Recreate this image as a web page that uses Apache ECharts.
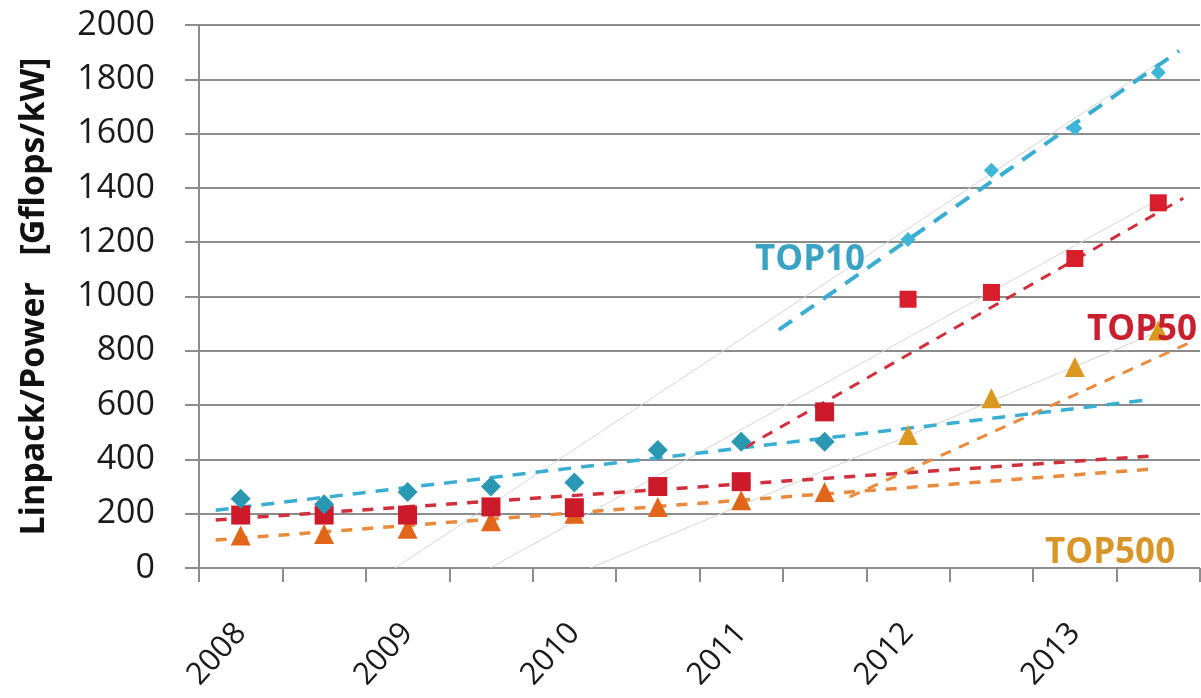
<!DOCTYPE html>
<html>
<head>
<meta charset="utf-8">
<script src="https://cdn.jsdelivr.net/npm/echarts@6/dist/echarts.min.js"></script>
<style>
html,body{margin:0;padding:0;background:#fff;}
#chart{width:1201px;height:698px;}
</style>
</head>
<body>
<div id="chart"></div>
<script>
// Half-year categories
const categories = ['2008','2008.5','2009','2009.5','2010','2010.5','2011','2011.5','2012','2012.5','2013','2013.5'];
const yTicks = [0,200,400,600,800,1000,1200,1400,1600,1800,2000];

// Series values (Gflops/kW)
const top10  = [255, 235, 280, 300, 315, 435, 465, 465, 1210, 1465, 1620, 1825];
const top50  = [195, 195, 195, 225, 222, 300, 318, 575, 990, 1015, 1140, 1345];
const top500 = [120, 125, 145, 172, 200, 225, 250, 280, 490, 625, 740, 875];

// Trend lines: [position in category units, value]
const top10TrendEarly  = [[0.2, 213], [11.4, 620]];
const top10TrendLate   = [[6.95, 877], [11.75, 1905]];
const top50TrendEarly  = [[0.2, 177], [11.4, 412]];
const top50TrendLate   = [[6.55, 445], [11.8, 1362]];
const top500TrendEarly = [[0.2, 103], [11.4, 364]];
const top500TrendLate  = [[7.8, 262], [11.9, 833]];
const grayLine1 = [[2.35, 0], [11.5, 1860]];
const grayLine2 = [[3.49, 0], [11.49, 1355]];
const grayLine3 = [[4.69, 0], [11.49, 869]];

const chart = echarts.init(document.getElementById('chart'));

function pts(arr, c1, c2, s1, s2, split) {
  return arr.map((v, i) => ({
    value: v,
    symbolSize: i < split ? s1 : s2,
    itemStyle: { color: i < split ? c1 : c2, opacity: 1 }
  }));
}
function trend(data, color, width, dash, z) {
  return {
    type: 'line', xAxisIndex: 1, data: data, symbol: 'none', z: z || 2,
    lineStyle: { color: color, width: width, type: dash },
    silent: true, animation: false
  };
}
function gray(data) {
  return {
    type: 'line', xAxisIndex: 1, data: data, symbol: 'none', z: 1,
    lineStyle: { color: '#d4d4d4', width: 1 }, silent: true, animation: false
  };
}

const font = '"Open Sans", "Noto Sans", sans-serif';

chart.setOption({
  animation: false,
  backgroundColor: '#ffffff',
  grid: { left: 199, right: 1, top: 25, bottom: 130 },
  xAxis: [{
    type: 'category',
    data: categories,
    boundaryGap: true,
    axisLine: { show: false },
    axisTick: { show: true, interval: 0, length: 14, lineStyle: { color: '#8c8c8c', width: 2 } },
    axisLabel: {
      interval: 0, rotate: 48, margin: 60,
      fontFamily: font, fontSize: 31, color: '#1a1a1a',
      formatter: (v, i) => (i % 2 === 0 ? v : '')
    },
    splitLine: { show: false }
  }, {
    type: 'value', min: 0, max: 12, show: false
  }],
  yAxis: {
    type: 'value', min: 0, max: 2000, interval: 200,
    name: 'Linpack/Power   [Gflops/kW]',
    nameLocation: 'middle', nameGap: 148,
    nameTextStyle: { fontFamily: font, fontSize: 34, fontWeight: 'bold', color: '#111' },
    axisLine: { show: true, lineStyle: { color: '#8c8c8c', width: 2 } },
    axisTick: { show: true, length: 14, lineStyle: { color: '#8c8c8c', width: 2 } },
    axisLabel: {
      margin: 44, fontFamily: font, fontSize: 34, color: '#1a1a1a',
      formatter: v => (yTicks.indexOf(v) >= 0 ? String(v) : '')
    },
    splitLine: { show: true, lineStyle: { color: '#8c8c8c', width: 2 } }
  },
  series: [
    gray(grayLine1), gray(grayLine2), gray(grayLine3),
    trend(top10TrendEarly, '#3aaed0', 3.5, [13, 10]),
    trend(top10TrendLate, '#3aaed0', 4, [16, 11]),
    trend(top50TrendEarly, '#d0303c', 3.5, [11, 10]),
    trend(top50TrendLate, '#d0303c', 3, [11, 9]),
    trend(top500TrendEarly, '#ea8a3c', 3.5, [11, 10]),
    trend(top500TrendLate, '#ea8a3c', 3, [11, 9]),
    {
      name: 'TOP10', type: 'scatter', symbol: 'diamond', z: 5,
      itemStyle: { opacity: 1 },
      data: pts(top10, '#2a97b3', '#3db6d8', 20, 15, 8)
    },
    {
      name: 'TOP50', type: 'scatter', symbol: 'rect', z: 4,
      itemStyle: { opacity: 1 },
      data: pts(top50, '#cc1a2a', '#d81e2c', 19, 17, 8)
    },
    {
      name: 'TOP500', type: 'scatter', symbol: 'triangle', z: 3,
      itemStyle: { opacity: 1 },
      data: pts(top500, '#e2661a', '#da981e', 20, 20, 8)
    }
  ],
  graphic: [
    { type: 'text', left: 755, top: 243, style: { text: 'TOP10', fill: '#3aa3c3', font: 'bold 35px ' + font, textVerticalAlign: 'middle' }, z: 10 },
    { type: 'text', left: 1087, top: 313, style: { text: 'TOP50', fill: '#c8202e', font: 'bold 35px ' + font, textVerticalAlign: 'middle' }, z: 10 },
    { type: 'text', left: 1045, top: 536, style: { text: 'TOP500', fill: '#d8962a', font: 'bold 35px ' + font, textVerticalAlign: 'middle' }, z: 10 }
  ]
});
</script>
</body>
</html>
